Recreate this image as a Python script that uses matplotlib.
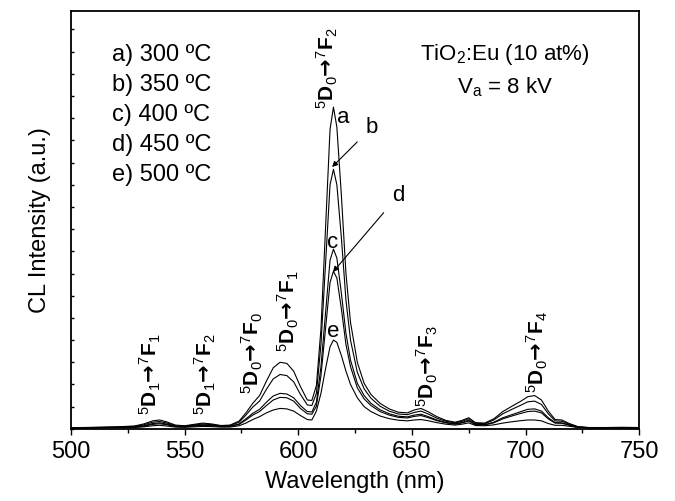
import matplotlib
matplotlib.use('Agg')
import matplotlib.pyplot as plt

plt.rcParams['font.family'] = ['Liberation Sans', 'DejaVu Sans']
plt.rcParams['mathtext.fontset'] = 'custom'
plt.rcParams['mathtext.rm'] = 'Liberation Sans'
plt.rcParams['mathtext.it'] = 'Liberation Sans:italic'
plt.rcParams['mathtext.bf'] = 'Liberation Sans:bold'
plt.rcParams['mathtext.sf'] = 'DejaVu Sans:bold'

# wavelength grid (nm)
wl = [500, 510, 520, 528, 532, 536, 539, 542, 546, 550, 554, 558, 562, 566, 570,
      574, 577, 580, 583, 586, 589, 592, 595, 598, 601, 604, 606, 608, 610, 612,
      614, 615.5, 617, 619, 621, 623, 626, 629, 632, 636, 640, 644, 648, 651, 654,
      657, 661, 665, 669, 672, 675, 678, 682, 686, 690, 694, 698, 701, 704, 707,
      710, 713, 716, 719, 723, 728, 735, 742, 750]

# CL intensity (a.u.) for each annealing temperature
int_300 = [0.05, 0.07, 0.09, 0.13, 0.22, 0.36, 0.40, 0.32, 0.17, 0.14,
           0.20, 0.26, 0.22, 0.15, 0.17, 0.35, 0.72, 1.15, 1.50, 2.15,
           2.75, 3.00, 2.95, 2.60, 1.90, 1.30, 1.28, 1.95, 4.50, 9.00,
           13.5, 14.5, 13.6, 10.5, 7.0, 4.8, 3.0, 2.05, 1.55, 1.15,
           0.90, 0.75, 0.72, 0.85, 0.92, 0.78, 0.55, 0.38, 0.30, 0.38,
           0.50, 0.28, 0.26, 0.45, 0.78, 1.02, 1.25, 1.45, 1.50, 1.30,
           0.80, 0.42, 0.40, 0.25, 0.10, 0.06, 0.06, 0.07, 0.06]
int_350 = [0.05, 0.06, 0.08, 0.11, 0.18, 0.30, 0.33, 0.27, 0.14, 0.12,
           0.17, 0.22, 0.19, 0.13, 0.15, 0.30, 0.62, 0.98, 1.25, 1.78,
           2.25, 2.45, 2.40, 2.12, 1.55, 1.08, 1.05, 1.60, 3.80, 7.40,
           11.0, 11.7, 11.0, 8.6, 5.8, 4.0, 2.55, 1.80, 1.38, 1.02,
           0.80, 0.67, 0.64, 0.74, 0.80, 0.68, 0.48, 0.34, 0.27, 0.34,
           0.45, 0.25, 0.23, 0.40, 0.68, 0.88, 1.07, 1.22, 1.25, 1.10,
           0.68, 0.36, 0.34, 0.22, 0.09, 0.05, 0.05, 0.06, 0.05]
int_400 = [0.04, 0.05, 0.07, 0.09, 0.14, 0.24, 0.27, 0.22, 0.12, 0.10,
           0.14, 0.18, 0.16, 0.11, 0.12, 0.22, 0.45, 0.70, 0.88, 1.20,
           1.48, 1.60, 1.57, 1.40, 1.05, 0.78, 0.76, 1.20, 2.80, 5.20,
           7.6, 8.1, 7.7, 6.1, 4.3, 3.1, 2.05, 1.50, 1.15, 0.86,
           0.68, 0.57, 0.54, 0.62, 0.66, 0.56, 0.40, 0.29, 0.23, 0.29,
           0.38, 0.21, 0.19, 0.30, 0.50, 0.64, 0.78, 0.88, 0.90, 0.80,
           0.50, 0.28, 0.27, 0.18, 0.08, 0.05, 0.05, 0.05, 0.05]
int_450 = [0.04, 0.05, 0.06, 0.08, 0.12, 0.20, 0.23, 0.19, 0.10, 0.09,
           0.12, 0.16, 0.14, 0.10, 0.11, 0.20, 0.40, 0.62, 0.78, 1.05,
           1.30, 1.42, 1.40, 1.25, 0.92, 0.68, 0.66, 1.02, 2.40, 4.50,
           6.6, 7.1, 6.8, 5.4, 3.8, 2.8, 1.85, 1.35, 1.05, 0.78,
           0.62, 0.52, 0.49, 0.56, 0.60, 0.51, 0.37, 0.27, 0.21, 0.27,
           0.35, 0.19, 0.18, 0.27, 0.45, 0.58, 0.70, 0.78, 0.80, 0.72,
           0.45, 0.26, 0.25, 0.17, 0.07, 0.05, 0.05, 0.05, 0.05]
int_500 = [0.03, 0.04, 0.05, 0.06, 0.09, 0.14, 0.16, 0.13, 0.08, 0.07,
           0.09, 0.11, 0.10, 0.08, 0.08, 0.14, 0.26, 0.42, 0.55, 0.72,
           0.85, 0.92, 0.90, 0.80, 0.60, 0.42, 0.40, 0.80, 1.60, 2.70,
           3.7, 4.0, 3.9, 3.3, 2.6, 2.0, 1.40, 1.00, 0.78, 0.58,
           0.46, 0.39, 0.36, 0.40, 0.42, 0.37, 0.28, 0.21, 0.17, 0.21,
           0.27, 0.15, 0.14, 0.18, 0.26, 0.32, 0.37, 0.40, 0.40, 0.36,
           0.24, 0.16, 0.16, 0.12, 0.06, 0.04, 0.04, 0.04, 0.04]

legend_lines = ['a) 300 ºC', 'b) 350 ºC', 'c) 400 ºC', 'd) 450 ºC', 'e) 500 ºC']

# transition labels: (text, x nm, bottom y)
transitions = [
    (r'$^5\mathbf{D}_1\mathsf{→}^7\mathbf{F}_1$', 535, 0.63),
    (r'$^5\mathbf{D}_1\mathsf{→}^7\mathbf{F}_2$', 559, 0.63),
    (r'$^5\mathbf{D}_0\mathsf{→}^7\mathbf{F}_0$', 580, 1.55),
    (r'$^5\mathbf{D}_0\mathsf{→}^7\mathbf{F}_1$', 595.5, 3.45),
    (r'$^5\mathbf{D}_0\mathsf{→}^7\mathbf{F}_2$', 613, 14.4),
    (r'$^5\mathbf{D}_0\mathsf{→}^7\mathbf{F}_3$', 657, 1.0),
    (r'$^5\mathbf{D}_0\mathsf{→}^7\mathbf{F}_4$', 705, 1.6),
]

fig = plt.figure(figsize=(6.75, 5.01), dpi=100)
ax = fig.add_axes([0.105, 0.144, 0.842, 0.834])

for serie in [int_300, int_350, int_400, int_450, int_500]:
    ax.plot(wl, serie, color='black', lw=0.8)

ax.set_xlim(500, 750)
ax.set_ylim(0, 18.83)
ax.set_xticks([500, 550, 600, 650, 700, 750])
ax.set_xticks([525, 575, 625, 675, 725], minor=True)
ax.set_yticks(range(0, 19))
ax.tick_params(axis='x', direction='out', length=4.5, width=1, labelsize=17, pad=4)
ax.tick_params(axis='x', which='minor', direction='out', length=3, width=1)
ax.tick_params(axis='y', direction='in', length=2.5, width=1, labelleft=False)
for sp in ax.spines.values():
    sp.set_linewidth(1.3)

ax.set_xlabel('Wavelength (nm)', fontsize=17, labelpad=6)
ax.set_ylabel('CL Intensity (a.u.)', fontsize=17, labelpad=14)

# legend-like list of temperatures
y_leg = [16.85, 15.5, 14.14, 12.79, 11.44]
for txt, yy in zip(legend_lines, y_leg):
    ax.text(518, yy, txt, fontsize=17, ha='left', va='center')

ax.text(691, 16.85, r'TiO$_2$:Eu (10 at%)', fontsize=16, ha='center', va='center')
ax.text(691, 15.4, r'V$_{\rm a}$ = 8 kV', fontsize=16, ha='center', va='center')

for txt, xx, yy in transitions:
    ax.text(xx, yy, txt, fontsize=15, rotation=90, ha='center', va='bottom')

# curve letters
ax.text(619.7, 14.05, 'a', fontsize=16, ha='center', va='center')
ax.text(615.3, 8.4, 'c', fontsize=16, ha='center', va='center')
ax.text(615.3, 4.4, 'e', fontsize=16, ha='center', va='center')
ax.annotate('b', xy=(614.9, 11.8), xytext=(632.5, 13.6), fontsize=16,
            ha='center', va='center',
            arrowprops=dict(arrowstyle='-|>', lw=0.8, color='black',
                            mutation_scale=8, shrinkA=6, shrinkB=0))
ax.annotate('d', xy=(615.3, 7.07), xytext=(643.9, 10.5), fontsize=16,
            ha='center', va='center',
            arrowprops=dict(arrowstyle='-|>', lw=0.8, color='black',
                            mutation_scale=8, shrinkA=6, shrinkB=0))

fig.savefig('out.png', dpi=100)
